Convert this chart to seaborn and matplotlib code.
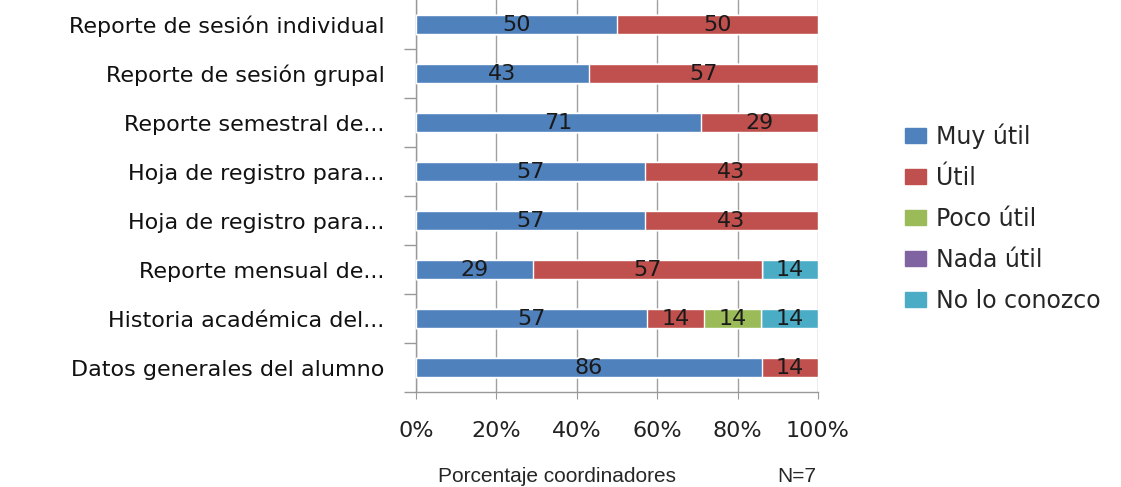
import numpy as np
import pandas as pd
import matplotlib
matplotlib.use("Agg")
import matplotlib.pyplot as plt
import seaborn as sns

# datos (porcentajes, N=7)
categorias = ["Reporte de sesión individual", "Reporte de sesión grupal",
              "Reporte semestral de...", "Hoja de registro para...",
              "Hoja de registro para...", "Reporte mensual de...",
              "Historia académica del...", "Datos generales del alumno"]
muy_util = [50, 43, 71, 57, 57, 29, 57, 86]
util = [50, 57, 29, 43, 43, 57, 14, 14]
poco_util = [0, 0, 0, 0, 0, 0, 14, 0]
nada_util = [0, 0, 0, 0, 0, 0, 0, 0]
no_conozco = [0, 0, 0, 0, 0, 14, 14, 0]

series = ["Muy útil", "Útil", "Poco útil", "Nada útil", "No lo conozco"]
colores = ["#4F81BD", "#C0504D", "#9BBB59", "#8064A2", "#4BACC6"]

df = pd.DataFrame({"Muy útil": muy_util, "Útil": util, "Poco útil": poco_util,
                   "Nada útil": nada_util, "No lo conozco": no_conozco})
df["fila"] = [str(i) for i in range(len(categorias))]

# barras 100% apiladas
pct = df[series].div(df[series].sum(axis=1), axis=0) * 100
acum = pct.cumsum(axis=1)
acum["fila"] = df["fila"]

sns.set_style("white")
plt.rcParams["font.family"] = ["DejaVu Sans"]

fig = plt.figure(figsize=(11.21, 4.87), dpi=100)
ax = fig.add_axes([0.371, 0.195, 0.7297 - 0.371, 0.805])

for s, c in reversed(list(zip(series, colores))):
    sns.barplot(data=acum, x=s, y="fila", orient="h", color=c, width=0.4,
                saturation=1, ax=ax, zorder=3)

# etiquetas de datos
for i in range(len(df)):
    inicio = 0
    for s in series:
        v = df.loc[i, s]
        fin = acum.loc[i, s]
        if v > 0:
            ax.text((inicio + fin) / 2, i, str(v), ha="center", va="center",
                    fontsize=16, color="#1a1a1a", zorder=4)
        inicio = fin

ax.set_xlim(0, 100)
ax.set_ylim(len(categorias) - 0.5, -0.5)
ax.set_xticks(np.arange(0, 101, 20))
ax.set_xticklabels([f"{t}%" for t in range(0, 101, 20)], fontsize=16, color="#222222")
ax.set_yticks(range(len(categorias)))
ax.set_yticklabels(categorias, fontsize=16, color="#111111")
ax.set_yticks(np.arange(0.5, len(categorias), 1), minor=True)
ax.tick_params(axis="y", which="major", left=False, pad=19)
ax.tick_params(axis="y", which="minor", left=True, length=9, color="#999999", width=1)
ax.tick_params(axis="x", bottom=True, length=5, color="#999999", pad=16, direction="out")
ax.set_xlabel("")
ax.set_ylabel("")
ax.grid(axis="x", color="#a0a0a0", linewidth=1, zorder=0)
ax.set_axisbelow(True)
for lado in ["top", "right"]:
    ax.spines[lado].set_visible(False)
for lado in ["left", "bottom"]:
    ax.spines[lado].set_color("#999999")
    ax.spines[lado].set_linewidth(1)

handles = [plt.Rectangle((0, 0), 1, 1, color=c) for c in colores]
fig.legend(handles, series, loc="center left", bbox_to_anchor=(0.797, 0.552),
           frameon=False, fontsize=17, handlelength=0.9, handleheight=0.6,
           handletextpad=0.4, labelspacing=0.72, borderpad=0)

fig.text(0.497, 0.022, "Porcentaje coordinadores", ha="center", va="center",
         fontsize=15, family="Liberation Sans")
fig.text(0.711, 0.022, "N=7", ha="center", va="center",
         fontsize=15, family="Liberation Sans")

fig.savefig("out.png", dpi=100)
